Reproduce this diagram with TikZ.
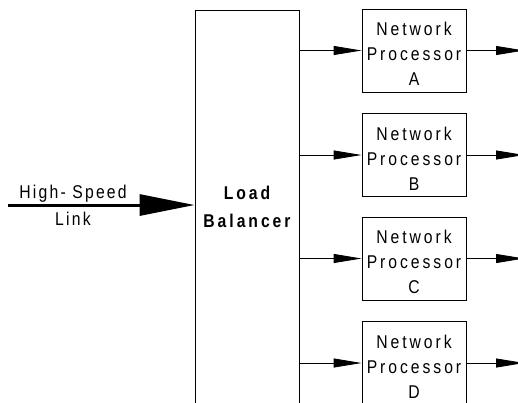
\documentclass[tikz,border=0pt]{standalone}
\usepackage{fontspec}
\setmainfont{Liberation Sans}[FakeStretch=0.85,LetterSpace=16]
\usetikzlibrary{arrows.meta}
\tikzset{
	npbox/.style={draw,line width=0.8pt,minimum width=104pt,minimum height=83pt,inner sep=0pt,align=center,font=\fontsize{18.5}{25}\selectfont,
		node contents={\rule{0pt}{20pt}Network\\Processor\\#1}},
	lbbox/.style={draw,line width=0.8pt,minimum width=104pt,minimum height=394pt,inner sep=0pt,align=center,font=\bfseries\fontsize{18.5}{28}\selectfont},
	link/.style={line width=0.8pt,-{Triangle[length=28pt,width=9pt]}},
	fatlink/.style={line width=3pt,-{Triangle[length=55pt,width=21pt]}},
	txt/.style={inner sep=0pt,anchor=base,font=\fontsize{18.5}{20}\selectfont\addfontfeature{LetterSpace=12}}
}

\begin{document}
\begin{tikzpicture}[x=1pt,y=-1pt]
	\useasboundingbox (0,0) rectangle (518,402);
	\clip (0,0) rectangle (518,402);

	\node [lbbox] (lb) at (247,207) {Load\\Balancer};

	\node (npA) at (414,50.5) [npbox=A];
	\node (npB) at (414,155) [npbox=B];
	\node (npC) at (414,258.5) [npbox=C];
	\node (npD) at (414,363) [npbox=D];

	\coordinate (in) at (8,205);
	\coordinate (edge) at (524,0);
	\node [txt] (hs) at (73,198) {High- Speed};
	\node [txt] (lnk) at (73,225) {Link};

	\draw [fatlink] (in) -- (lb.west |- in);

	\draw [link] (lb.east |- npA.west) -- (npA.west);
	\draw [link] (lb.east |- npB.west) -- (npB.west);
	\draw [link] (lb.east |- npC.west) -- (npC.west);
	\draw [link] (lb.east |- npD.west) -- (npD.west);

	\draw [link] (npA.east) -- (npA.east -| edge);
	\draw [link] (npB.east) -- (npB.east -| edge);
	\draw [link] (npC.east) -- (npC.east -| edge);
	\draw [link] (npD.east) -- (npD.east -| edge);
\end{tikzpicture}
\end{document}
